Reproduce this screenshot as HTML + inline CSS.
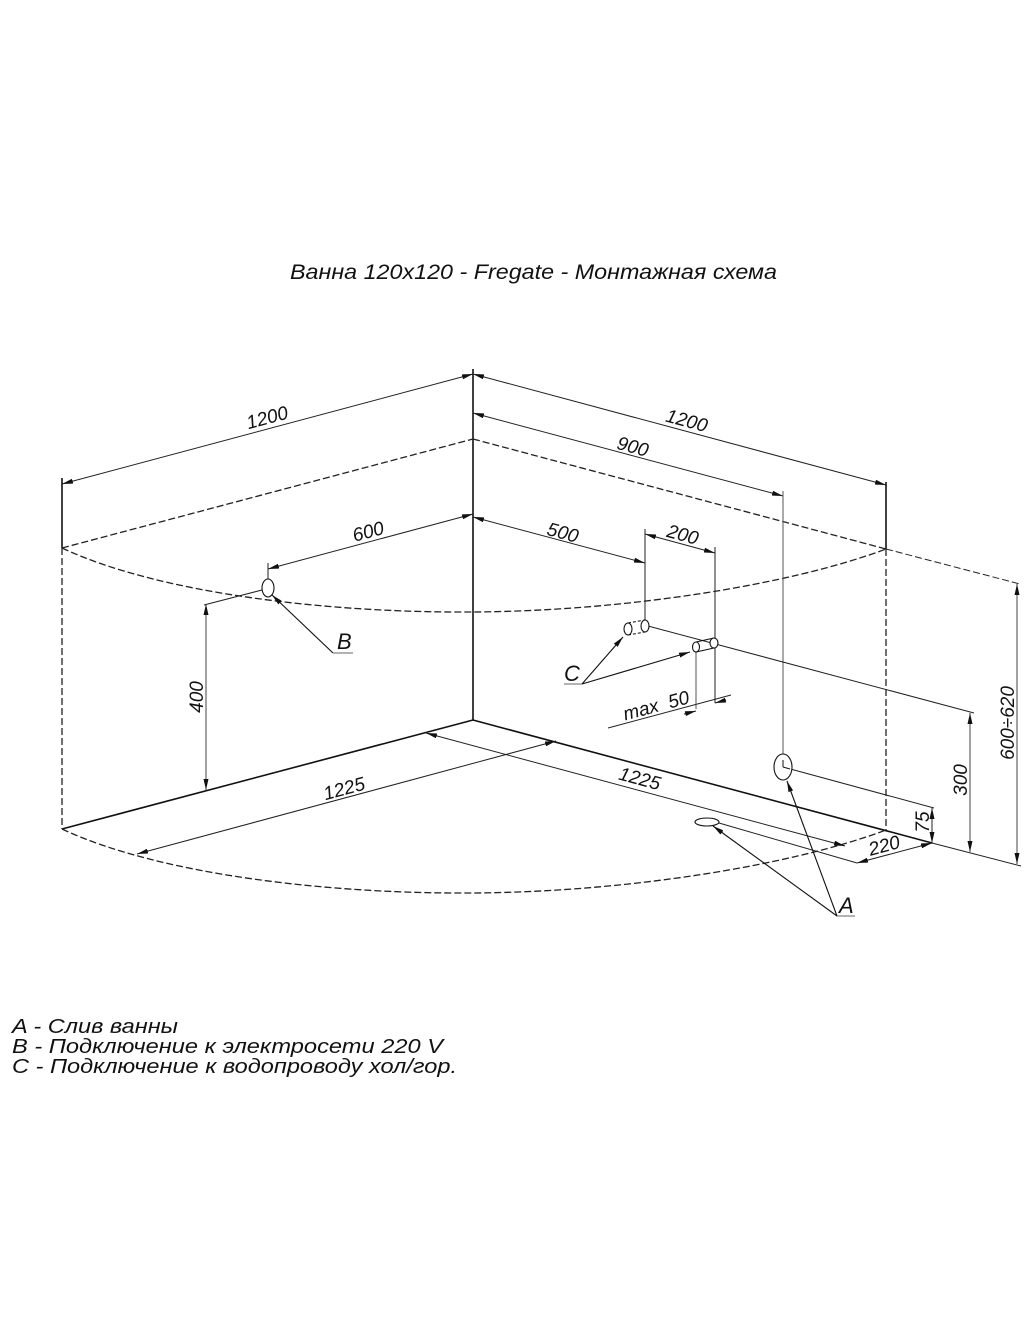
<!DOCTYPE html>
<html><head><meta charset="utf-8"><style>
html,body{margin:0;padding:0;background:#fff;}
svg{display:block;}
text{font-family:"Liberation Sans","DejaVu Sans",sans-serif;font-style:italic;fill:#111;}
</style></head><body>
<svg width="1024" height="1340" viewBox="0 0 1024 1340" xmlns="http://www.w3.org/2000/svg">
<defs>
<marker id="ar" viewBox="0 0 11 5" refX="11" refY="2.5" markerWidth="11" markerHeight="5" markerUnits="userSpaceOnUse" orient="auto-start-reverse">
<path d="M0,0 L11,2.5 L0,5 z" fill="#111"/>
</marker>
</defs>
<rect width="1024" height="1340" fill="#fff"/>

<!-- Title -->
<text x="290" y="279" font-size="21" textLength="487" lengthAdjust="spacingAndGlyphs">Ванна 120x120 - Fregate - Монтажная схема</text>

<!-- Main edges -->
<g stroke="#111" stroke-width="1.6" fill="none">
<line x1="473" y1="369" x2="473" y2="720"/>
<line x1="473" y1="720" x2="62" y2="829"/>
<line x1="473" y1="720" x2="932" y2="843"/>
<line x1="62" y1="478" x2="62" y2="548"/>
<line x1="886" y1="482" x2="886" y2="549"/>
</g>

<!-- Dashed geometry -->
<g stroke="#222" stroke-width="1.3" fill="none" stroke-dasharray="7 3">
<line x1="62" y1="548" x2="62" y2="829"/>
<line x1="886" y1="549" x2="886" y2="830"/>
<line x1="62" y1="548" x2="473" y2="439"/>
<line x1="473" y1="439" x2="886" y2="549"/>
<path d="M62,548 C160,594 330,613 473,612 C625,611 790,585 886,549"/>
<path d="M62,829 C160,875 330,894 473,893 C625,892 790,866 886,830"/>
<line x1="886" y1="549" x2="1020" y2="584" stroke-width="1"/>
</g>

<!-- Dimension & extension lines -->
<g stroke="#222" stroke-width="1" fill="none">
<line x1="62" y1="484" x2="473" y2="374" marker-start="url(#ar)" marker-end="url(#ar)"/>
<line x1="473" y1="374" x2="886" y2="485" marker-start="url(#ar)" marker-end="url(#ar)"/>
<line x1="473" y1="413" x2="783" y2="496" marker-start="url(#ar)" marker-end="url(#ar)"/>
<line x1="783" y1="491" x2="783" y2="755" stroke="#555"/>
<line x1="473" y1="514" x2="268" y2="569" marker-start="url(#ar)" marker-end="url(#ar)"/>
<line x1="268" y1="563" x2="268" y2="580"/>
<line x1="473" y1="517" x2="645" y2="563" marker-start="url(#ar)" marker-end="url(#ar)"/>
<line x1="645" y1="534" x2="715" y2="553" marker-start="url(#ar)" marker-end="url(#ar)"/>
<line x1="645" y1="529" x2="645" y2="621"/>
<line x1="715" y1="547" x2="715" y2="703"/>
<line x1="206" y1="604" x2="206" y2="790" marker-start="url(#ar)" marker-end="url(#ar)" stroke="#444"/>
<line x1="204" y1="605" x2="262" y2="590"/>
<line x1="137" y1="854" x2="556" y2="741" marker-start="url(#ar)" marker-end="url(#ar)"/>
<line x1="426" y1="733" x2="845" y2="846" marker-start="url(#ar)" marker-end="url(#ar)"/>
<line x1="648" y1="626" x2="974" y2="713"/>
<line x1="696" y1="652" x2="696" y2="709" stroke="#555"/>
<line x1="608" y1="728" x2="731" y2="695"/>
<line x1="684" y1="714" x2="696" y2="711" marker-end="url(#ar)"/>
<line x1="726" y1="700" x2="715" y2="703" marker-end="url(#ar)"/>
<line x1="783" y1="767" x2="934" y2="808"/>
<line x1="719" y1="823" x2="857" y2="863"/>
<line x1="857" y1="863" x2="932" y2="843" marker-start="url(#ar)" marker-end="url(#ar)"/>
<line x1="932" y1="808" x2="932" y2="843" marker-start="url(#ar)" marker-end="url(#ar)"/>
<line x1="932" y1="843" x2="1021" y2="866"/>
<line x1="970" y1="713" x2="970" y2="852" marker-start="url(#ar)" marker-end="url(#ar)" stroke="#444"/>
<line x1="1017" y1="584" x2="1017" y2="864" marker-start="url(#ar)" marker-end="url(#ar)" stroke="#444"/>
</g>

<!-- Fixtures -->
<g stroke="#111" stroke-width="1.1" fill="#fff">
<ellipse cx="268" cy="588" rx="6" ry="9"/>
<ellipse cx="783" cy="767" rx="9" ry="13"/>
<ellipse cx="707" cy="822" rx="12" ry="4"/>
<line x1="628" y1="623" x2="645" y2="620" stroke-dasharray="3 2"/>
<line x1="628" y1="635" x2="645" y2="632" stroke-dasharray="3 2"/>
<ellipse cx="628" cy="629" rx="4" ry="6"/>
<ellipse cx="645" cy="626" rx="4" ry="6"/>
<line x1="696" y1="642" x2="714" y2="638"/>
<line x1="696" y1="652" x2="714" y2="648"/>
<ellipse cx="696" cy="647" rx="3.5" ry="5"/>
<ellipse cx="714" cy="643" rx="4" ry="5"/>
</g>
<line x1="783" y1="760" x2="783" y2="767" stroke="#111" stroke-width="1"/>
<line x1="783" y1="767" x2="790" y2="769" stroke="#111" stroke-width="1"/>

<!-- Leaders -->
<g stroke="#111" stroke-width="1.1" fill="none">
<line x1="333" y1="653" x2="272" y2="595" marker-end="url(#ar)"/>
<line x1="333" y1="653" x2="353" y2="653" stroke="#666"/>
<line x1="582" y1="684" x2="623" y2="637" marker-end="url(#ar)"/>
<line x1="582" y1="684" x2="690" y2="652" marker-end="url(#ar)"/>
<line x1="564" y1="684" x2="582" y2="684" stroke="#666"/>
<line x1="837" y1="916" x2="787" y2="781" marker-end="url(#ar)"/>
<line x1="837" y1="916" x2="713" y2="826" marker-end="url(#ar)"/>
<line x1="837" y1="916" x2="855" y2="916" stroke="#666"/>
</g>

<!-- Dimension texts -->
<g font-size="19" text-anchor="middle">
<text transform="translate(267,417) rotate(-15)" y="7">1200</text>
<text transform="translate(687,420) rotate(15)" y="7">1200</text>
<text transform="translate(633,446) rotate(15)" y="7">900</text>
<text transform="translate(368,531) rotate(-15)" y="7">600</text>
<text transform="translate(563,532) rotate(15)" y="7">500</text>
<text transform="translate(683,534) rotate(15)" y="7">200</text>
<text transform="translate(196,697) rotate(-90)" y="7">400</text>
<text transform="translate(344,788) rotate(-15)" y="7">1225</text>
<text transform="translate(640,778) rotate(15)" y="7">1225</text>
<text transform="translate(656,705) rotate(-15)" y="7">max&#160;&#160;50</text>
<text transform="translate(960,780) rotate(-90)" y="7">300</text>
<text transform="translate(1007,723) rotate(-90)" y="7">600÷620</text>
<text transform="translate(922,822) rotate(-90)" y="7">75</text>
<text transform="translate(884,845) rotate(-15)" y="7">220</text>
</g>

<!-- Leader letters -->
<g font-size="22">
<text x="337" y="649">B</text>
<text x="564" y="681">C</text>
<text x="839" y="913">A</text>
</g>

<!-- Legend -->
<g font-size="20">
<text x="12" y="1033" textLength="166" lengthAdjust="spacingAndGlyphs">A - Слив ванны</text>
<text x="12" y="1053" textLength="431" lengthAdjust="spacingAndGlyphs">B - Подключение к электросети 220 V</text>
<text x="12" y="1073" textLength="445" lengthAdjust="spacingAndGlyphs">C - Подключение к водопроводу хол/гор.</text>
</g>
</svg>
</body></html>
